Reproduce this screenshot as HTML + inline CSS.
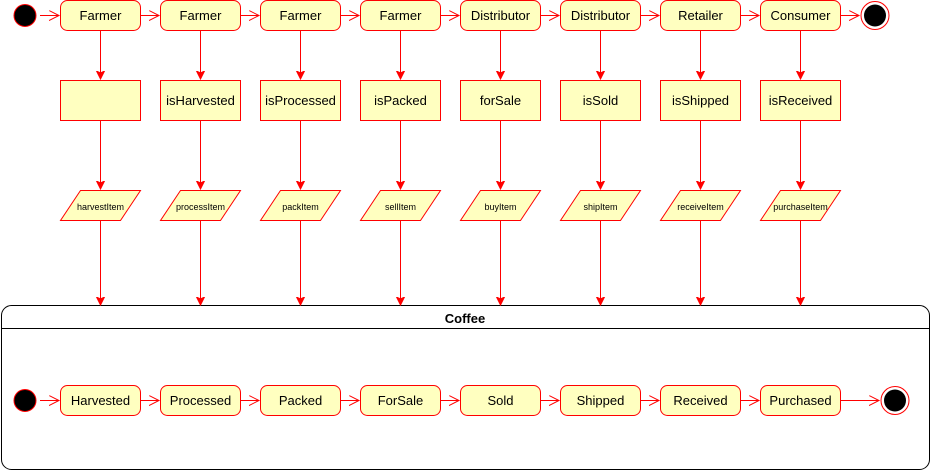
<!DOCTYPE html>
<html><head><meta charset="utf-8"><style>
html,body{margin:0;padding:0;background:#fff;}
svg{display:block;font-family:"Liberation Sans",Helvetica,Arial,sans-serif;}
</style></head><body>
<svg width="931" height="471" viewBox="0 0 931 471" xmlns="http://www.w3.org/2000/svg">
<defs>
<marker id="op" markerWidth="12" markerHeight="12" refX="10" refY="5" orient="auto" markerUnits="userSpaceOnUse">
<path d="M0,0 L10,5 L0,10" fill="none" stroke="#f00" stroke-width="1"/></marker>
<marker id="fl" markerWidth="12" markerHeight="12" refX="8" refY="5" orient="auto" markerUnits="userSpaceOnUse">
<path d="M0,1 L8,5 L0,9 L2,5 Z" fill="#f00" stroke="#f00" stroke-width="1"/></marker>
</defs>

<rect x="1.5" y="305.5" width="928" height="164" rx="10" fill="#fff" stroke="#000" stroke-width="1"/>
<line x1="1.5" y1="328.5" x2="929.5" y2="328.5" stroke="#000"/>
<text x="465" y="323" font-size="13" font-weight="bold" text-anchor="middle">Coffee</text>

<g stroke="#f00" stroke-width="1" fill="none">
<line x1="40" y1="15.5" x2="59" y2="15.5" marker-end="url(#op)"/>
<line x1="140" y1="15.5" x2="159" y2="15.5" marker-end="url(#op)"/>
<line x1="240" y1="15.5" x2="259" y2="15.5" marker-end="url(#op)"/>
<line x1="340" y1="15.5" x2="359" y2="15.5" marker-end="url(#op)"/>
<line x1="440" y1="15.5" x2="459" y2="15.5" marker-end="url(#op)"/>
<line x1="540" y1="15.5" x2="559" y2="15.5" marker-end="url(#op)"/>
<line x1="640" y1="15.5" x2="659" y2="15.5" marker-end="url(#op)"/>
<line x1="740" y1="15.5" x2="759" y2="15.5" marker-end="url(#op)"/>
<line x1="840" y1="15.5" x2="859" y2="15.5" marker-end="url(#op)"/>
<line x1="40" y1="400.5" x2="59" y2="400.5" marker-end="url(#op)"/>
<line x1="140" y1="400.5" x2="159" y2="400.5" marker-end="url(#op)"/>
<line x1="240" y1="400.5" x2="259" y2="400.5" marker-end="url(#op)"/>
<line x1="340" y1="400.5" x2="359" y2="400.5" marker-end="url(#op)"/>
<line x1="440" y1="400.5" x2="459" y2="400.5" marker-end="url(#op)"/>
<line x1="540" y1="400.5" x2="559" y2="400.5" marker-end="url(#op)"/>
<line x1="640" y1="400.5" x2="659" y2="400.5" marker-end="url(#op)"/>
<line x1="740" y1="400.5" x2="759" y2="400.5" marker-end="url(#op)"/>
<line x1="840" y1="400.5" x2="879" y2="400.5" marker-end="url(#op)"/>
<line x1="100.5" y1="30" x2="100.5" y2="79" marker-end="url(#fl)"/>
<line x1="200.5" y1="30" x2="200.5" y2="79" marker-end="url(#fl)"/>
<line x1="300.5" y1="30" x2="300.5" y2="79" marker-end="url(#fl)"/>
<line x1="400.5" y1="30" x2="400.5" y2="79" marker-end="url(#fl)"/>
<line x1="500.5" y1="30" x2="500.5" y2="79" marker-end="url(#fl)"/>
<line x1="600.5" y1="30" x2="600.5" y2="79" marker-end="url(#fl)"/>
<line x1="700.5" y1="30" x2="700.5" y2="79" marker-end="url(#fl)"/>
<line x1="800.5" y1="30" x2="800.5" y2="79" marker-end="url(#fl)"/>
<line x1="100.5" y1="120" x2="100.5" y2="189" marker-end="url(#fl)"/>
<line x1="200.5" y1="120" x2="200.5" y2="189" marker-end="url(#fl)"/>
<line x1="300.5" y1="120" x2="300.5" y2="189" marker-end="url(#fl)"/>
<line x1="400.5" y1="120" x2="400.5" y2="189" marker-end="url(#fl)"/>
<line x1="500.5" y1="120" x2="500.5" y2="189" marker-end="url(#fl)"/>
<line x1="600.5" y1="120" x2="600.5" y2="189" marker-end="url(#fl)"/>
<line x1="700.5" y1="120" x2="700.5" y2="189" marker-end="url(#fl)"/>
<line x1="800.5" y1="120" x2="800.5" y2="189" marker-end="url(#fl)"/>
<line x1="100.5" y1="220" x2="100.5" y2="305" marker-end="url(#fl)"/>
<line x1="200.5" y1="220" x2="200.5" y2="305" marker-end="url(#fl)"/>
<line x1="300.5" y1="220" x2="300.5" y2="305" marker-end="url(#fl)"/>
<line x1="400.5" y1="220" x2="400.5" y2="305" marker-end="url(#fl)"/>
<line x1="500.5" y1="220" x2="500.5" y2="305" marker-end="url(#fl)"/>
<line x1="600.5" y1="220" x2="600.5" y2="305" marker-end="url(#fl)"/>
<line x1="700.5" y1="220" x2="700.5" y2="305" marker-end="url(#fl)"/>
<line x1="800.5" y1="220" x2="800.5" y2="305" marker-end="url(#fl)"/>
</g>

<circle cx="25" cy="15.5" r="11" fill="#000" stroke="#f00" stroke-width="1"/>
<circle cx="875" cy="15.5" r="14" fill="#fff" stroke="#f00" stroke-width="1"/>
<circle cx="875" cy="15.5" r="11" fill="#000"/>
<circle cx="25" cy="400.5" r="11" fill="#000" stroke="#f00" stroke-width="1"/>
<circle cx="895" cy="400.5" r="14" fill="#fff" stroke="#f00" stroke-width="1"/>
<circle cx="895" cy="400.5" r="11" fill="#000"/>

<g fill="#ffffc0" stroke="#f00" stroke-width="1">
<rect x="60.5" y="0.5" width="80" height="30" rx="7"/>
<rect x="160.5" y="0.5" width="80" height="30" rx="7"/>
<rect x="260.5" y="0.5" width="80" height="30" rx="7"/>
<rect x="360.5" y="0.5" width="80" height="30" rx="7"/>
<rect x="460.5" y="0.5" width="80" height="30" rx="7"/>
<rect x="560.5" y="0.5" width="80" height="30" rx="7"/>
<rect x="660.5" y="0.5" width="80" height="30" rx="7"/>
<rect x="760.5" y="0.5" width="80" height="30" rx="7"/>
<rect x="60.5" y="80.5" width="80" height="40"/>
<rect x="160.5" y="80.5" width="80" height="40"/>
<rect x="260.5" y="80.5" width="80" height="40"/>
<rect x="360.5" y="80.5" width="80" height="40"/>
<rect x="460.5" y="80.5" width="80" height="40"/>
<rect x="560.5" y="80.5" width="80" height="40"/>
<rect x="660.5" y="80.5" width="80" height="40"/>
<rect x="760.5" y="80.5" width="80" height="40"/>
<polygon points="80.5,190.5 140.5,190.5 120.5,220.5 60.5,220.5"/>
<polygon points="180.5,190.5 240.5,190.5 220.5,220.5 160.5,220.5"/>
<polygon points="280.5,190.5 340.5,190.5 320.5,220.5 260.5,220.5"/>
<polygon points="380.5,190.5 440.5,190.5 420.5,220.5 360.5,220.5"/>
<polygon points="480.5,190.5 540.5,190.5 520.5,220.5 460.5,220.5"/>
<polygon points="580.5,190.5 640.5,190.5 620.5,220.5 560.5,220.5"/>
<polygon points="680.5,190.5 740.5,190.5 720.5,220.5 660.5,220.5"/>
<polygon points="780.5,190.5 840.5,190.5 820.5,220.5 760.5,220.5"/>
<rect x="60.5" y="385.5" width="80" height="30" rx="7"/>
<rect x="160.5" y="385.5" width="80" height="30" rx="7"/>
<rect x="260.5" y="385.5" width="80" height="30" rx="7"/>
<rect x="360.5" y="385.5" width="80" height="30" rx="7"/>
<rect x="460.5" y="385.5" width="80" height="30" rx="7"/>
<rect x="560.5" y="385.5" width="80" height="30" rx="7"/>
<rect x="660.5" y="385.5" width="80" height="30" rx="7"/>
<rect x="760.5" y="385.5" width="80" height="30" rx="7"/>
</g>

<g font-size="13" text-anchor="middle" fill="#000">
<text x="100.5" y="20">Farmer</text>
<text x="200.5" y="20">Farmer</text>
<text x="300.5" y="20">Farmer</text>
<text x="400.5" y="20">Farmer</text>
<text x="500.5" y="20">Distributor</text>
<text x="600.5" y="20">Distributor</text>
<text x="700.5" y="20">Retailer</text>
<text x="800.5" y="20">Consumer</text>
<text x="200.5" y="105">isHarvested</text>
<text x="300.5" y="105">isProcessed</text>
<text x="400.5" y="105">isPacked</text>
<text x="500.5" y="105">forSale</text>
<text x="600.5" y="105">isSold</text>
<text x="700.5" y="105">isShipped</text>
<text x="800.5" y="105">isReceived</text>
<text x="100.5" y="405">Harvested</text>
<text x="200.5" y="405">Processed</text>
<text x="300.5" y="405">Packed</text>
<text x="400.5" y="405">ForSale</text>
<text x="500.5" y="405">Sold</text>
<text x="600.5" y="405">Shipped</text>
<text x="700.5" y="405">Received</text>
<text x="800.5" y="405">Purchased</text>
</g>
<g font-size="9" text-anchor="middle" fill="#000">
<text x="100.5" y="210">harvestItem</text>
<text x="200.5" y="210">processItem</text>
<text x="300.5" y="210">packItem</text>
<text x="400.5" y="210">sellItem</text>
<text x="500.5" y="210">buyItem</text>
<text x="600.5" y="210">shipItem</text>
<text x="700.5" y="210">receiveItem</text>
<text x="800.5" y="210">purchaseItem</text>
</g>
</svg>
</body></html>
